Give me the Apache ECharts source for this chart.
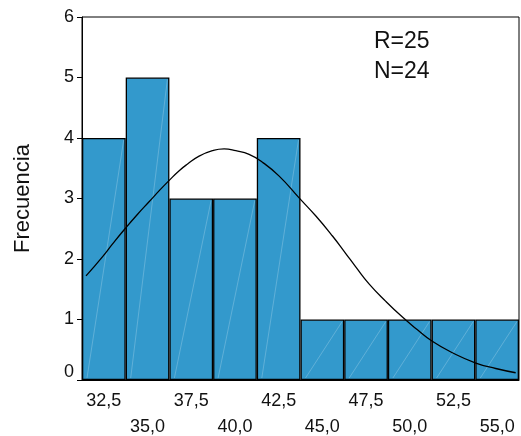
<!DOCTYPE html>
<html><head><meta charset="utf-8">
<script src="https://cdn.jsdelivr.net/npm/echarts@6/dist/echarts.min.js"></script>
<style>html,body{margin:0;padding:0;background:#fff}#c{width:521px;height:436px}</style>
</head><body><div id="c"></div>
<script>
var categories = ['32,5','35,0','37,5','40,0','42,5','45,0','47,5','50,0','52,5','55,0'];
var counts = [4,5,3,3,4,1,1,1,1,1];
var curveX = [31.48,32.43,33.0,33.71,34.43,35.1,35.67,36.24,36.81,37.29,37.95,38.71,39.38,40.05,40.81,41.57,42.53,43.67,44.63,45.58,46.34,46.91,47.67,48.63,49.58,50.44,51.29,52.44,53.78,54.92,56.06];
var curveY = [1.72,2.04,2.25,2.50,2.74,2.95,3.13,3.30,3.46,3.57,3.70,3.79,3.82,3.79,3.73,3.60,3.37,3.01,2.71,2.38,2.09,1.87,1.59,1.30,1.04,0.83,0.64,0.45,0.28,0.19,0.12];
var yTicks = [0,1,2,3,4,5,6];
var statsText = ['R=25','N=24'];

var font = 'Liberation Sans, Arial, sans-serif';
var chart = echarts.init(document.getElementById('c'), null, {renderer:'canvas'});
chart.setOption({
  animation:false,
  grid:{left:82, right:2, top:17, bottom:56, show:true, borderColor:'#000', borderWidth:1, containLabel:false, outerBoundsMode:'none'},
  xAxis:[{
    type:'category', data:categories, boundaryGap:true,
    axisLine:{lineStyle:{color:'#000', width:1}},
    axisTick:{alignWithLabel:true, interval:0, length:5, lineStyle:{color:'#000'}},
    axisLabel:{color:'#111', fontSize:18, fontFamily:font, margin:8, lineHeight:26, interval:0, hideOverlap:false,
      formatter:function(v,i){return i%2 ? '\n'+v : v;}}
  },{
    type:'value', min:31.25, max:56.25, show:false
  }],
  yAxis:{
    type:'value', min:0, max:6, interval:1,
    name:'Frecuencia', nameLocation:'middle', nameGap:48,
    nameTextStyle:{fontSize:22, fontFamily:font, color:'#111'},
    axisLine:{show:true, lineStyle:{color:'#000'}},
    axisTick:{show:true, length:5, lineStyle:{color:'#000'}},
    axisLabel:{color:'#111', fontSize:18, fontFamily:font, margin:8,
      formatter:function(v){return v===0 ? '{z|0}' : String(v);},
      rich:{z:{fontSize:18, fontFamily:font, color:'#111', padding:[0,0,16,0]}}},
    splitLine:{show:false}
  },
  graphic:[
    {type:'text', left:374, top:30, style:{text:statsText[0], font:'23px '+font, fill:'#111'}},
    {type:'text', left:374, top:60, style:{text:statsText[1], font:'23px '+font, fill:'#111'}}
  ],
  series:[{
    type:'bar', data:counts, barCategoryGap:'0%', xAxisIndex:0,
    itemStyle:{color:'#3399CC', borderColor:'#000', borderWidth:1.3}
  },{
    type:'custom', xAxisIndex:0, data:counts.map(function(v,i){return [i,v];}),
    renderItem:function(params, api){
      var c0 = api.coord([api.value(0), 0]);
      var c1 = api.coord([api.value(0), api.value(1)]);
      var w = api.size([1,0])[0];
      return {type:'line', shape:{x1:c0[0]-w/2+5, y1:c0[1]-2, x2:c1[0]+w/2-2, y2:c1[1]+2},
        style:{stroke:'rgba(255,255,255,0.22)', lineWidth:1}, silent:true};
    }, z:3
  },{
    type:'line', xAxisIndex:1, smooth:true, symbol:'none',
    data:curveX.map(function(x,i){return [x, curveY[i]];}),
    lineStyle:{color:'#000', width:1.3}, z:5
  }]
});
</script></body></html>
